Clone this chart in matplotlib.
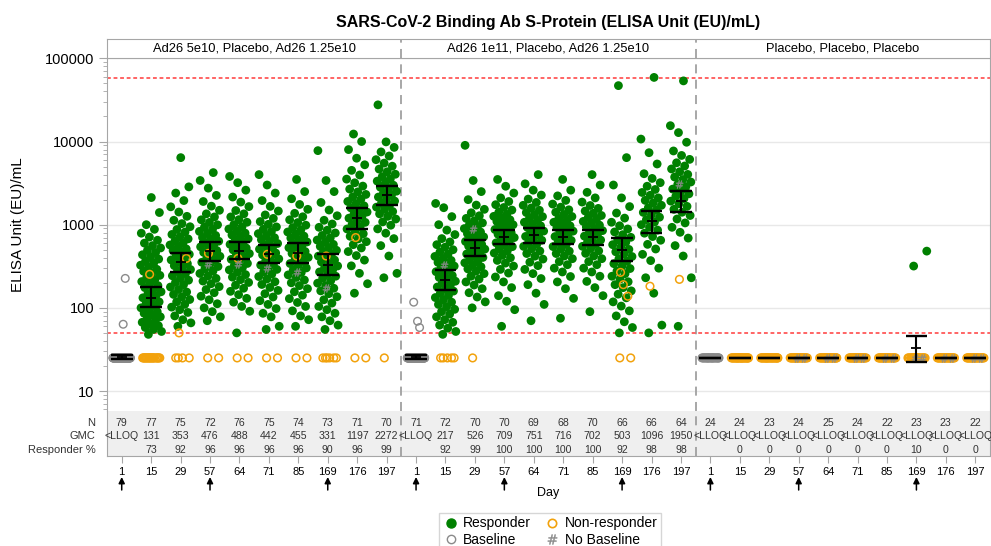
import matplotlib.pyplot as plt
from matplotlib.lines import Line2D
from matplotlib.transforms import blended_transform_factory

plt.rcParams['font.family'] = ['Liberation Sans', 'DejaVu Sans']

days = [1, 15, 29, 57, 64, 71, 85, 169, 176, 197]
dose_days = [1, 57, 169]
panel_titles = ['Ad26 5e10, Placebo, Ad26 1.25e10',
                'Ad26 1e11, Placebo, Ad26 1.25e10',
                'Placebo, Placebo, Placebo']
lloq = 50
uloq = 58000
low_value = 25  # values <LLOQ are shown at LLOQ/2

# ---- panel A: Ad26 5e10, Placebo, Ad26 1.25e10
n_a = [79, 77, 75, 72, 76, 75, 74, 73, 71, 70]
gmc_lbl_a = ['<LLOQ', 131, 353, 476, 488, 442, 455, 331, 1197, 2272]
pct_a = ['', 73, 92, 96, 96, 96, 96, 90, 96, 99]
gmc_a = [25.8, 131, 353, 476, 488, 442, 455, 331, 1197, 2272]
lo_a = [24.6, 101, 267, 362, 383, 343, 345, 245, 880, 1720]
hi_a = [27.3, 177, 452, 612, 620, 567, 600, 445, 1570, 2900]
resp_a = [
    [],
    [48, 52, 55, 58, 61, 64, 67, 70, 74, 78, 82, 86, 90, 95, 100, 106, 112, 118, 125, 132, 140, 148, 156, 165,
     175, 185, 196, 207, 219, 232, 246, 260, 275, 291, 308, 326, 345, 365, 386, 410, 435, 462, 492, 525, 560,
     600, 650, 710, 790, 880, 1000, 1400, 2120],
    [60, 66, 72, 80, 88, 95, 102, 110, 118, 126, 135, 145, 155, 166, 178, 190, 202, 215, 229, 243, 258, 273,
     289, 305, 322, 340, 358, 377, 397, 418, 440, 463, 487, 512, 540, 570, 602, 637, 675, 717, 763, 815, 875,
     945, 1030, 1130, 1260, 1420, 1640, 1950, 2400, 2850, 6400],
    [70, 78, 90, 100, 112, 125, 138, 152, 166, 180, 195, 210, 226, 242, 259, 277, 295, 314, 333, 353, 374, 395,
     417, 440, 464, 489, 515, 542, 571, 601, 633, 667, 703, 742, 784, 830, 880, 935, 996, 1065, 1145, 1240,
     1350, 1490, 1670, 1900, 2250, 2750, 3400, 4230],
    [50, 91, 104, 117, 130, 144, 158, 172, 187, 202, 218, 234, 251, 268, 286, 304, 323, 342, 362, 383, 404, 426,
     449, 473, 498, 524, 551, 580, 610, 642, 676, 712, 751, 793, 838, 887, 941, 1000, 1070, 1150, 1240, 1350,
     1480, 1650, 1870, 2150, 2600, 3200, 3800],
    [55, 60, 78, 86, 98, 110, 122, 135, 148, 162, 176, 191, 206, 222, 238, 255, 272, 290, 308, 327, 347, 367,
     388, 410, 433, 457, 482, 508, 535, 564, 594, 626, 660, 697, 737, 780, 827, 880, 940, 1010, 1090, 1190,
     1310, 1460, 1660, 1950, 2400, 3000, 4000],
    [60, 72, 80, 92, 104, 116, 129, 142, 156, 170, 185, 200, 216, 232, 249, 266, 284, 302, 321, 341, 361, 382,
     404, 427, 451, 476, 502, 529, 558, 588, 620, 654, 690, 729, 771, 817, 867, 923, 986, 1060, 1145, 1245,
     1370, 1530, 1750, 2050, 2500, 3500],
    [55, 62, 70, 78, 86, 95, 104, 114, 125, 136, 148, 160, 172, 185, 198, 212, 226, 240, 255, 270, 286, 302,
     319, 337, 356, 376, 397, 419, 442, 466, 492, 519, 548, 580, 615, 653, 695, 742, 795, 857, 930, 1020,
     1130, 1280, 1500, 1850, 2500, 3400, 7770],
    [150, 195, 260, 320, 375, 425, 475, 525, 575, 625, 675, 725, 778, 832, 888, 946, 1005, 1067, 1131, 1198,
     1268, 1342, 1420, 1503, 1592, 1687, 1790, 1902, 2025, 2160, 2310, 2480, 2680, 2910, 3190, 3530, 3960,
     4500, 5250, 6300, 8000, 10000, 12300],
    [230, 260, 420, 560, 680, 790, 890, 985, 1080, 1170, 1260, 1350, 1440, 1530, 1625, 1720, 1820, 1925, 2035,
     2150, 2270, 2395, 2530, 2670, 2820, 2980, 3150, 3340, 3550, 3780, 4040, 4330, 4660, 5050, 5500, 6050,
     6700, 7500, 8500, 9900, 27600],
]
nonresp_a = [[], [253], [50, 393], [452], [393], [440], [420], [420], [700], []]
nr_low_a = [0, 20, 4, 2, 2, 2, 2, 6, 2, 1]
nobase_a = [[], [], [], [333], [333], [298], [267], [175], [], []]
base_a = [63.5, 226]
base_low_a = 77

# ---- panel B: Ad26 1e11, Placebo, Ad26 1.25e10
n_b = [71, 72, 70, 70, 69, 68, 70, 66, 66, 64]
gmc_lbl_b = ['<LLOQ', 217, 526, 709, 751, 716, 702, 503, 1096, 1950]
pct_b = ['', 92, 99, 100, 100, 100, 100, 92, 98, 98]
gmc_b = [25.6, 217, 526, 709, 751, 716, 702, 503, 1096, 1910]
lo_b = [24.6, 165, 420, 580, 610, 590, 570, 370, 800, 1440]
hi_b = [26.8, 285, 660, 870, 920, 870, 860, 690, 1480, 2570]
resp_b = [
    [],
    [48, 52, 57, 62, 67, 72, 78, 84, 90, 96, 103, 110, 117, 125, 133, 141, 150, 159, 168, 178, 188, 198, 209,
     220, 232, 245, 258, 272, 287, 302, 318, 335, 352, 372, 393, 415, 440, 468, 500, 535, 575, 620, 680, 760,
     860, 1000, 1250, 1600, 1800],
    [100, 118, 135, 152, 170, 188, 205, 222, 240, 258, 276, 294, 312, 330, 348, 366, 385, 404, 424, 444, 465,
     486, 508, 530, 553, 577, 602, 628, 655, 684, 714, 746, 780, 817, 856, 898, 944, 995, 1050, 1115, 1190,
     1280, 1390, 1530, 1720, 2000, 2500, 3400, 9000],
    [60, 95, 120, 140, 175, 205, 235, 262, 290, 318, 345, 372, 400, 428, 456, 485, 514, 544, 574, 605, 636, 668,
     700, 733, 767, 802, 838, 875, 914, 955, 998, 1044, 1093, 1145, 1200, 1260, 1330, 1410, 1500, 1610, 1740,
     1900, 2100, 2400, 2900, 3500],
    [70, 110, 150, 190, 225, 258, 290, 322, 354, 386, 418, 450, 482, 515, 548, 582, 616, 650, 686, 722, 760,
     798, 838, 880, 924, 970, 1018, 1070, 1125, 1185, 1250, 1320, 1400, 1490, 1590, 1710, 1850, 2030, 2270,
     2600, 3100, 4000],
    [75, 130, 170, 205, 238, 270, 300, 330, 360, 390, 420, 450, 480, 512, 545, 578, 612, 647, 683, 720, 758,
     797, 837, 879, 923, 969, 1018, 1070, 1126, 1187, 1254, 1328, 1412, 1510, 1625, 1770, 1960, 2220, 2600,
     3500],
    [90, 140, 175, 208, 240, 270, 300, 330, 360, 390, 420, 452, 484, 516, 549, 583, 618, 654, 690, 728, 767,
     807, 849, 893, 939, 988, 1040, 1095, 1155, 1220, 1290, 1370, 1460, 1570, 1700, 1870, 2100, 2450, 3000,
     4000],
    [50, 58, 68, 80, 92, 105, 118, 132, 146, 160, 175, 190, 206, 222, 240, 258, 277, 297, 318, 340, 363, 388,
     414, 442, 472, 504, 538, 575, 615, 658, 705, 758, 818, 888, 970, 1070, 1200, 1380, 1650, 2100, 3000,
     6400, 47000],
    [50, 62, 150, 230, 300, 370, 440, 510, 580, 650, 720, 790, 860, 930, 1000, 1075, 1150, 1230, 1315, 1405,
     1500, 1600, 1710, 1830, 1960, 2100, 2260, 2440, 2650, 2900, 3200, 3600, 4100, 5370, 7340, 10700, 59000],
    [60, 230, 420, 560, 690, 810, 930, 1050, 1170, 1290, 1410, 1530, 1660, 1790, 1920, 2060, 2200, 2350, 2510,
     2680, 2860, 3050, 3260, 3490, 3740, 4020, 4330, 4680, 5080, 5550, 6100, 6800, 7700, 9800, 12800, 15500,
     53600],
]
nonresp_b = [[], [], [], [], [], [], [], [267, 138, 190], [182], [220]]
nr_low_b = [0, 5, 1, 0, 0, 0, 0, 2, 0, 0]
nobase_b = [[], [330], [880], [], [], [], [], [], [], [3120]]
base_b = [69, 58, 117]
base_low_b = 68

# ---- panel C: Placebo, Placebo, Placebo
n_c = [24, 24, 23, 24, 25, 24, 22, 23, 23, 22]
gmc_lbl_c = ['<LLOQ'] * 10
pct_c = ['', 0, 0, 0, 0, 0, 0, 10, 0, 0]
gmc_c = [25, 25, 25, 25, 25, 25, 25, 33, 25, 25]
lo_c = [25, 25, 25, 25, 25, 25, 25, 22.3, 25, 25]
hi_c = [25, 25, 25, 25, 25, 25, 25, 46, 25, 25]
resp_c = [[], [], [], [], [], [], [], [318, 481], [], []]
nonresp_c = [[], [], [], [], [], [], [], [], [], []]
nr_low_c = [0, 24, 23, 22, 23, 22, 20, 19, 21, 20]
nobase_c = [[], [], [], [25, 25], [25, 25], [25, 25], [25, 25], [25, 25], [25, 25], [25, 25]]
base_c = []
base_low_c = 24

GREEN = '#008000'
ORANGE = '#F2A20C'
GRAY = '#8a8a8a'
FRAME = '#a6a6a6'
TXT = '#333333'


def jitter(n, w):
    return [((k * 0.618034 + 0.37) % 1.0 - 0.5) * 2 * w for k in range(n)]


fig = plt.figure(figsize=(9.91, 5.46), dpi=100)
L, W = 107 / 991, 883 / 991
ax = fig.add_axes([L, 1 - 411 / 546, W, 353 / 546])
axh = fig.add_axes([L, 1 - 58 / 546, W, 19 / 546])
axt = fig.add_axes([L, 1 - 456 / 546, W, 45 / 546])

panels = [
    (resp_a, nonresp_a, nr_low_a, nobase_a, base_a, base_low_a, gmc_a, lo_a, hi_a, n_a, gmc_lbl_a, pct_a),
    (resp_b, nonresp_b, nr_low_b, nobase_b, base_b, base_low_b, gmc_b, lo_b, hi_b, n_b, gmc_lbl_b, pct_b),
    (resp_c, nonresp_c, nr_low_c, nobase_c, base_c, base_low_c, gmc_c, lo_c, hi_c, n_c, gmc_lbl_c, pct_c),
]

for p, (resp, nonresp, nr_low, nobase, base, base_low, gmc, lo, hi, n, glbl, pct) in enumerate(panels):
    for i, d in enumerate(days):
        pos = p * 10 + i
        vals = resp[i]
        if vals:
            ax.scatter([pos + j for j in jitter(len(vals), 0.36)], vals, s=40, color=GREEN,
                       edgecolors='none', zorder=3)
        nr = nonresp[i] + [low_value] * nr_low[i]
        if nr:
            xs = jitter(len(nonresp[i]), 0.2) + jitter(nr_low[i], 0.3)
            ax.scatter([pos + j for j in xs], nr, s=30, facecolors='none', edgecolors=ORANGE,
                       linewidths=1.1, zorder=4)
        if nobase[i]:
            ax.scatter([pos + j for j in jitter(len(nobase[i]), 0.2)], nobase[i], s=30,
                       marker=r'$\#$', color=GRAY, linewidths=0.3, zorder=5)
        if i == 0:
            bv = base + [low_value] * base_low
            xs = [0.05, 0.12, -0.08][:len(base)] + jitter(base_low, 0.3)
            ax.scatter([pos + j for j in xs], bv, s=30, facecolors='none', edgecolors=GRAY,
                       linewidths=1.0, zorder=4)
        # GMC with 95% CI
        ax.vlines(pos, lo[i], hi[i], color='black', lw=1.5, zorder=6)
        ax.hlines([lo[i], hi[i]], pos - 0.37, pos + 0.37, color='black', lw=1.7, zorder=6)
        ax.hlines(gmc[i], pos - 0.17, pos + 0.17, color='black', lw=1.3, zorder=6)
        # table
        axt.text(pos, 0.74, str(n[i]), ha='center', va='center', fontsize=7.6, color=TXT)
        axt.text(pos, 0.44, str(glbl[i]), ha='center', va='center', fontsize=7.6, color=TXT)
        axt.text(pos, 0.13, str(pct[i]), ha='center', va='center', fontsize=7.6, color=TXT)
    axh.text(p * 10 + 4.5, 0.48, panel_titles[p], ha='center', va='center', fontsize=9.3)

for a in (ax, axh, axt):
    a.set_xlim(-0.5, 29.5)
    for xb in (9.5, 19.5):
        a.axvline(xb, color='#a0a0a0', lw=1.3, ls=(0, (5, 3.5)), zorder=2)

# main axis
ax.set_yscale('log')
ax.set_ylim(5.75, 1.01e5)
ax.set_yticks([10, 100, 1000, 10000, 100000])
ax.set_yticklabels(['10', '100', '1000', '10000', '100000'])
ax.yaxis.grid(True, which='major', color='#e8e8e8', lw=1, zorder=0)
ax.set_axisbelow(True)
ax.tick_params(axis='y', which='major', length=6, color=FRAME, labelsize=10.5, pad=3)
ax.tick_params(axis='y', which='minor', length=3, color=FRAME)
ax.tick_params(axis='x', bottom=False, labelbottom=False)
ax.axhline(lloq, color='#ff3b3b', lw=1.1, ls=(0, (2.5, 1.8)), zorder=2)
ax.axhline(uloq, color='#ff3b3b', lw=1.1, ls=(0, (2.5, 1.8)), zorder=2)
for s in ('top', 'bottom'):
    ax.spines[s].set_visible(False)
for s in ('left', 'right'):
    ax.spines[s].set_color(FRAME)

# header strip
axh.set_ylim(0, 1)
axh.set_xticks([])
axh.set_yticks([])
for s in axh.spines.values():
    s.set_color(FRAME)

# table
axt.set_facecolor('#efefef')
axt.set_ylim(0, 1)
axt.set_yticks([])
axt.set_xticks(range(30))
axt.set_xticklabels([str(d) for d in days] * 3)
axt.tick_params(axis='x', length=5, color=FRAME, labelsize=8, pad=3)
axt.spines['top'].set_visible(False)
for s in ('left', 'bottom', 'right'):
    axt.spines[s].set_color(FRAME)
for yy, lbl in ((0.74, 'N'), (0.44, 'GMC'), (0.13, 'Responder %')):
    axt.text(-0.013, yy, lbl, transform=axt.transAxes, ha='right', va='center', fontsize=8, color=TXT)

# dose arrows
trans = blended_transform_factory(axt.transData, fig.transFigure)
for p in range(3):
    for d in dose_days:
        x = p * 10 + days.index(d)
        axt.annotate('', xy=(x, 1 - 477 / 546), xytext=(x, 1 - 490 / 546), xycoords=trans,
                     arrowprops=dict(arrowstyle='-|>', color='black', lw=1.1, mutation_scale=9,
                                     shrinkA=0, shrinkB=0),
                     annotation_clip=False)

fig.text(548 / 991, 1 - 493 / 546, 'Day', ha='center', va='center', fontsize=9)
fig.text(18 / 991, 1 - 225 / 546, 'ELISA Unit (EU)/mL', rotation=90, ha='center', va='center', fontsize=11)
fig.text(548 / 991, 1 - 22 / 546, 'SARS-CoV-2 Binding Ab S-Protein (ELISA Unit (EU)/mL)',
         ha='center', va='center', fontsize=11.5, fontweight='bold')

handles = [
    Line2D([], [], ls='', marker='o', ms=6.5, mfc=GREEN, mec=GREEN),
    Line2D([], [], ls='', marker='o', ms=6, mfc='none', mec=GRAY, mew=1),
    Line2D([], [], ls='', marker='o', ms=6, mfc='none', mec=ORANGE, mew=1.2),
    Line2D([], [], ls='', marker=r'$\#$', ms=7, color=GRAY, mew=0.3),
]
labels = ['Responder', 'Baseline', 'Non-responder', 'No Baseline']
fig.legend(handles, labels, ncol=2, loc='upper center', bbox_to_anchor=(550 / 991, 1 - 513 / 546),
           fontsize=10, frameon=True, fancybox=False, edgecolor='#cccccc', handletextpad=0.3,
           columnspacing=0.9, borderpad=0.25, labelspacing=0.15, handlelength=1.2, borderaxespad=0)

fig.savefig('out.png', dpi=100)
